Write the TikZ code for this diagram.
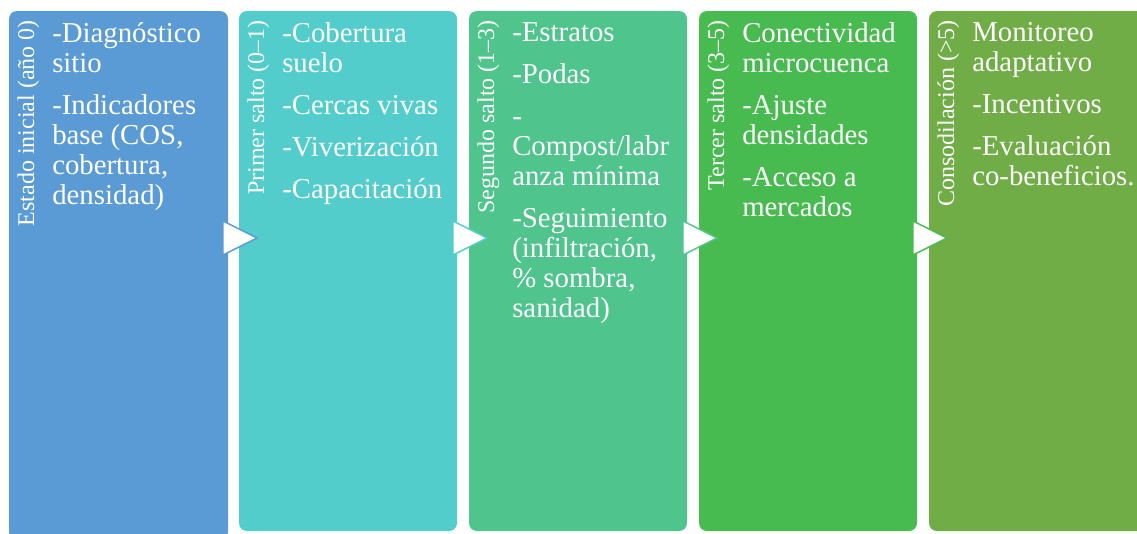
\documentclass[tikz,border=0pt]{standalone}
\usepackage{fontspec}
\setmainfont{Liberation Serif}
\usepackage{tikz}

\definecolor{stepA}{RGB}{91,155,213}
\definecolor{stepB}{RGB}{83,204,204}
\definecolor{stepC}{RGB}{79,196,141}
\definecolor{stepD}{RGB}{71,186,80}
\definecolor{stepE}{RGB}{112,173,71}

\begin{document}
\begin{tikzpicture}[x=0.75pt,y=0.75pt,yscale=-1,xscale=1,
  stage/.style={rounded corners=6pt},
  chev/.style={fill=white,line width=1.1pt,line join=miter},
  lbl/.style={rotate=90,anchor=base east,inner sep=0pt,text=white,font=\fontsize{18}{20}\selectfont},
  item/.style={anchor=north west,inner sep=0pt,text=white,align=left,font=\fontsize{21.6}{22.5}\selectfont,
    execute at begin node={\rule{0pt}{16pt}}}]
\useasboundingbox (0,0) rectangle (1137,533);

%Rounded Rect
\fill [stage,stepA] (9,11) rectangle (228,540) ;
%Rounded Rect
\fill [stage,stepB] (239,11) rectangle (457,531) ;
%Rounded Rect
\fill [stage,stepC] (469,11) rectangle (687,531) ;
%Rounded Rect
\fill [stage,stepD] (699,11) rectangle (917,531) ;
%Rounded Rect
\fill [stage,stepE] (929,11) rectangle (1150,531) ;

%Chevrons
\coordinate (c1) at (223,238);
\coordinate (c2) at (453,238);
\coordinate (c3) at (683,238);
\coordinate (c4) at (913,238);
\draw [chev,draw=stepA] (c1) ++(0,-17) -- ++(34,17) -- ++(-34,17) -- cycle ;
\draw [chev,draw=stepB] (c2) ++(0,-17) -- ++(34,17) -- ++(-34,17) -- cycle ;
\draw [chev,draw=stepC] (c3) ++(0,-17) -- ++(34,17) -- ++(-34,17) -- cycle ;
\draw [chev,draw=stepD] (c4) ++(0,-17) -- ++(34,17) -- ++(-34,17) -- cycle ;

% Text Node
\draw (34,20) node [lbl] (l0) {Estado inicial (año 0)};
% Text Node
\draw (264,20) node [lbl] (l1) {Primer salto (0–1)};
% Text Node
\draw (494,20) node [lbl] (l2) {Segundo salto (1–3)};
% Text Node
\draw (724,20) node [lbl] (l3) {Tercer salto (3–5)};
% Text Node
\draw (954,20) node [lbl] (l4) {Consodilación (>5)};

% Text Node
\draw (52,22.5) node [item] (t0) {-Diagnóstico\\sitio\\[9pt]-Indicadores\\base (COS,\\cobertura,\\densidad)};
% Text Node
\draw (282,22.5) node [item] (t1) {-Cobertura\\suelo\\[9pt]-Cercas vivas\\[9pt]-Viverización\\[9pt]-Capacitación};
% Text Node
\draw (512,22.5) node [item] (t2) {-Estratos\\[9pt]-Podas\\[9pt]-\\Compost/labr\\anza mínima\\[9pt]-Seguimiento\\(infiltración,\\\% sombra,\\sanidad)};
% Text Node
\draw (742,22.5) node [item] (t3) {Conectividad\\microcuenca\\[9pt]-Ajuste\\densidades\\[9pt]-Acceso a\\mercados};
% Text Node
\draw (972,22.5) node [item] (t4) {Monitoreo\\adaptativo\\[9pt]-Incentivos\\[9pt]-Evaluación\\co-beneficios.};

\end{tikzpicture}
\end{document}
